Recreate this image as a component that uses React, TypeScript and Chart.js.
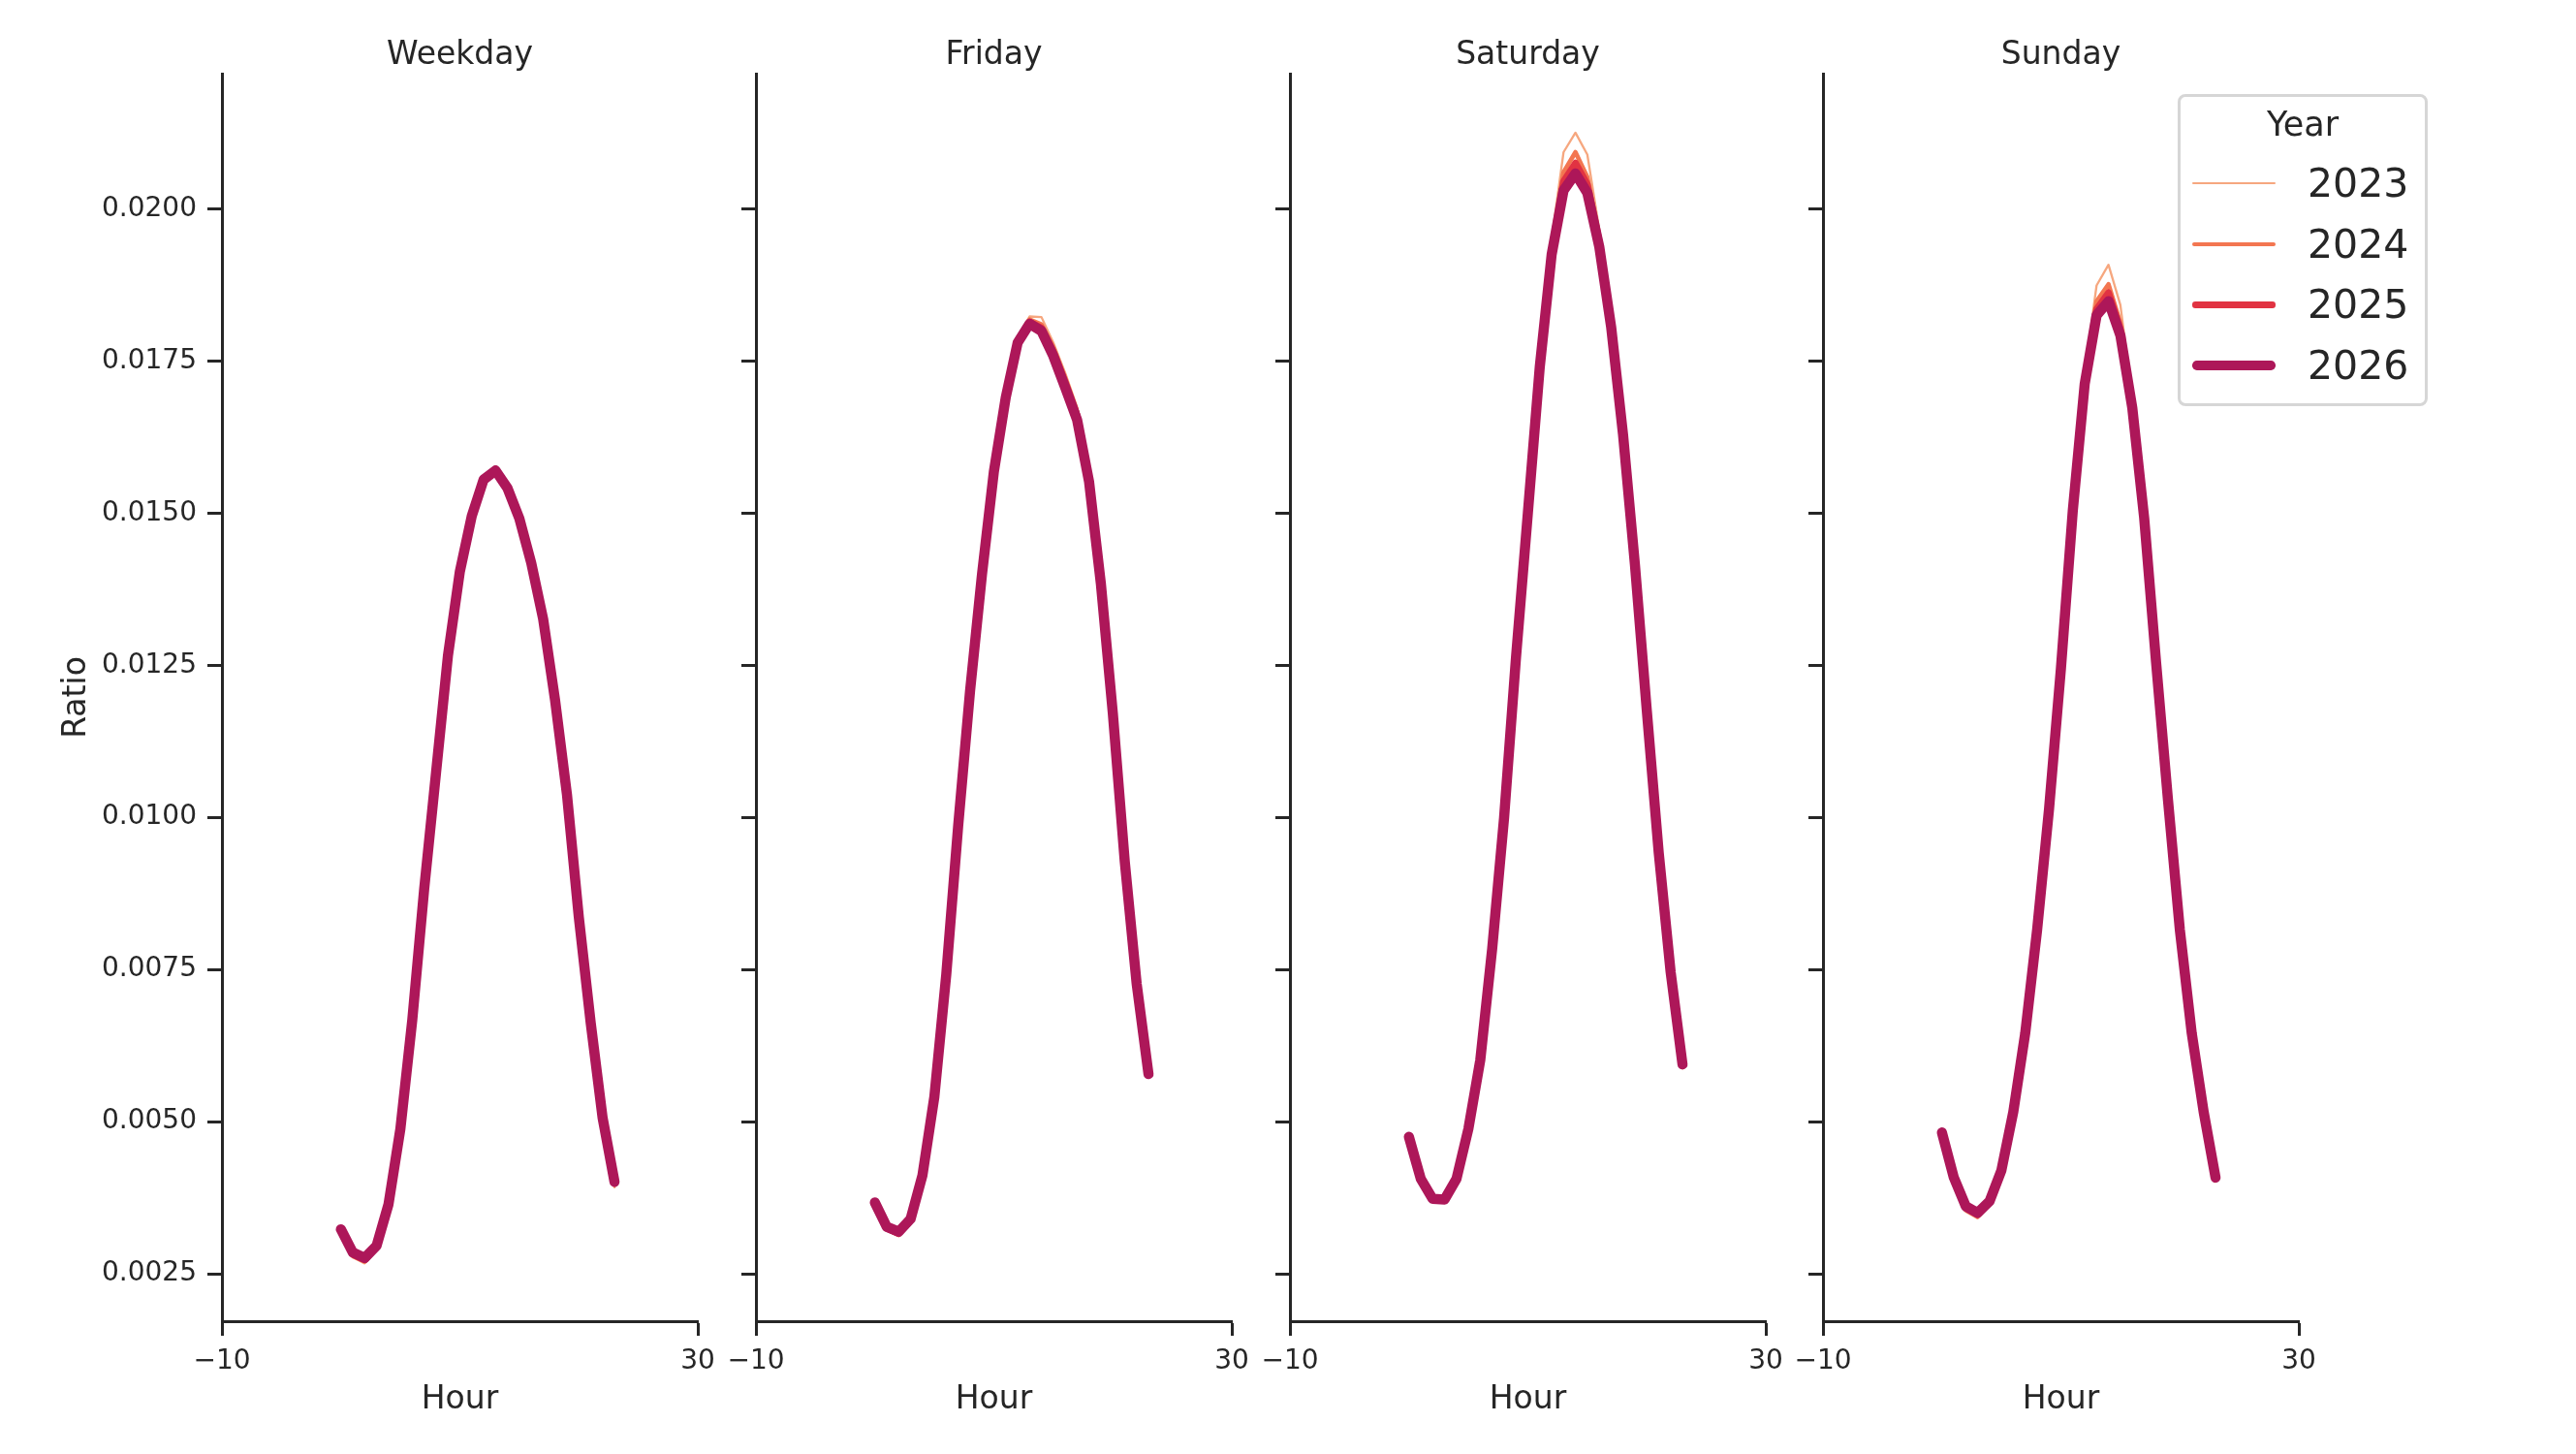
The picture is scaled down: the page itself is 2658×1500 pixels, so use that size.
import React, { useEffect, useRef } from 'react';
import { Chart, registerables } from 'chart.js';

Chart.register(...registerables);

const FONT = "'DejaVu Sans', 'Liberation Sans', sans-serif";
const INK = '#262626';

const HOURS = [0, 1, 2, 3, 4, 5, 6, 7, 8, 9, 10, 11, 12, 13, 14, 15, 16, 17, 18, 19, 20, 21, 22, 23];
const YEARS = ['2023', '2024', '2025', '2026'];
const YEAR_COLORS = ['#f6a77f', '#f37651', '#e13342', '#ad1759'];
const LINE_WIDTHS = [2.3, 4.6, 7, 10.5];
const SWATCH_WIDTHS = [2, 4, 6.5, 9.5];
const PANELS = ['Weekday', 'Friday', 'Saturday', 'Sunday'];
const Y_TICKS = [0.0025, 0.005, 0.0075, 0.01, 0.0125, 0.015, 0.0175, 0.02];
const X_TICKS = [-10, 30];

// Weekday
const WEEKDAY_2023 = [0.00318, 0.00277, 0.00267, 0.0029, 0.00361, 0.00486, 0.00666, 0.00883, 0.01076, 0.01269, 0.01407, 0.01499, 0.0156, 0.01576, 0.01545, 0.01493, 0.01419, 0.01325, 0.0119, 0.01035, 0.00832, 0.00657, 0.005, 0.00392];
const WEEKDAY_2024 = [0.00319, 0.00279, 0.0027, 0.00292, 0.00362, 0.00486, 0.00666, 0.00882, 0.01075, 0.01268, 0.01406, 0.01498, 0.01559, 0.01574, 0.01544, 0.01492, 0.01418, 0.01325, 0.01191, 0.01036, 0.00834, 0.00659, 0.00503, 0.00396];
const WEEKDAY_2025 = [0.00321, 0.00282, 0.00273, 0.00294, 0.00363, 0.00487, 0.00667, 0.00882, 0.01075, 0.01267, 0.01405, 0.01496, 0.01557, 0.01572, 0.01542, 0.01491, 0.01418, 0.01325, 0.01192, 0.01037, 0.00835, 0.00661, 0.00505, 0.00399];
const WEEKDAY_2026 = [0.00323, 0.00285, 0.00276, 0.00296, 0.00364, 0.00488, 0.00667, 0.00882, 0.01074, 0.01266, 0.01404, 0.01495, 0.01555, 0.0157, 0.01541, 0.01491, 0.01418, 0.01326, 0.01193, 0.01038, 0.00836, 0.00662, 0.00506, 0.00401];

// Friday
const FRIDAY_2023 = [0.00364, 0.00321, 0.00312, 0.00336, 0.0041, 0.0054, 0.00742, 0.00987, 0.0121, 0.01402, 0.01571, 0.01694, 0.01789, 0.01823, 0.01822, 0.0178, 0.0173, 0.01674, 0.01562, 0.01386, 0.0117, 0.00926, 0.00725, 0.00573];
const FRIDAY_2024 = [0.00365, 0.00323, 0.00314, 0.00337, 0.0041, 0.0054, 0.00742, 0.00986, 0.01209, 0.01401, 0.0157, 0.01693, 0.01786, 0.01818, 0.0181, 0.01772, 0.01722, 0.01667, 0.01558, 0.01385, 0.0117, 0.00927, 0.00726, 0.00575];
const FRIDAY_2025 = [0.00366, 0.00325, 0.00316, 0.00338, 0.00411, 0.00541, 0.00742, 0.00986, 0.01208, 0.014, 0.01569, 0.01692, 0.01783, 0.01814, 0.01804, 0.01765, 0.01714, 0.0166, 0.01555, 0.01384, 0.01171, 0.00928, 0.00727, 0.00577];
const FRIDAY_2026 = [0.00367, 0.00327, 0.00319, 0.0034, 0.00412, 0.00541, 0.00742, 0.00986, 0.01208, 0.01399, 0.01568, 0.0169, 0.0178, 0.01811, 0.01799, 0.01758, 0.01706, 0.01653, 0.01552, 0.01383, 0.01171, 0.00928, 0.00727, 0.00578];

// Saturday
const SATURDAY_2023 = [0.00472, 0.00403, 0.0037, 0.00369, 0.00405, 0.00488, 0.00602, 0.00786, 0.01003, 0.0127, 0.01512, 0.01758, 0.0195, 0.02093, 0.02125, 0.02089, 0.01966, 0.0182, 0.01635, 0.01417, 0.01175, 0.0094, 0.00742, 0.00587];
const SATURDAY_2024 = [0.00473, 0.00404, 0.00371, 0.0037, 0.00405, 0.00488, 0.00602, 0.00785, 0.01001, 0.01266, 0.01506, 0.0175, 0.01938, 0.0206, 0.02093, 0.02052, 0.01954, 0.01814, 0.01632, 0.01416, 0.01175, 0.00941, 0.00744, 0.0059];
const SATURDAY_2025 = [0.00474, 0.00405, 0.00372, 0.00371, 0.00406, 0.00488, 0.00601, 0.00784, 0.01, 0.01264, 0.01503, 0.01745, 0.01932, 0.02045, 0.02075, 0.0204, 0.01946, 0.0181, 0.0163, 0.01415, 0.01175, 0.00942, 0.00745, 0.00592];
const SATURDAY_2026 = [0.00475, 0.00406, 0.00373, 0.00372, 0.00406, 0.00488, 0.00601, 0.00784, 0.00999, 0.01262, 0.015, 0.0174, 0.01925, 0.0203, 0.02058, 0.02026, 0.01938, 0.01806, 0.01629, 0.01415, 0.01175, 0.00942, 0.00746, 0.00594];

// Sunday
const SUNDAY_2023 = [0.00479, 0.00402, 0.00352, 0.00341, 0.00363, 0.00417, 0.00516, 0.00646, 0.00817, 0.01016, 0.0125, 0.01514, 0.0173, 0.01874, 0.01908, 0.01842, 0.0169, 0.01499, 0.01258, 0.0103, 0.00813, 0.00643, 0.00512, 0.00401];
const SUNDAY_2024 = [0.0048, 0.00404, 0.00355, 0.00344, 0.00365, 0.00418, 0.00516, 0.00646, 0.00816, 0.01015, 0.01248, 0.0151, 0.01722, 0.01848, 0.01876, 0.01812, 0.01683, 0.01496, 0.01257, 0.01029, 0.00814, 0.00644, 0.00514, 0.00404];
const SUNDAY_2025 = [0.00481, 0.00406, 0.00358, 0.00347, 0.00367, 0.00419, 0.00516, 0.00645, 0.00815, 0.01014, 0.01246, 0.01507, 0.01717, 0.01835, 0.01862, 0.01802, 0.01678, 0.01494, 0.01256, 0.01029, 0.00815, 0.00645, 0.00515, 0.00406];
const SUNDAY_2026 = [0.00482, 0.00408, 0.00361, 0.0035, 0.00369, 0.0042, 0.00516, 0.00645, 0.00815, 0.01013, 0.01244, 0.01504, 0.01712, 0.01825, 0.01848, 0.01792, 0.01673, 0.01492, 0.01255, 0.01029, 0.00815, 0.00645, 0.00516, 0.00408];

const SERIES = [
  [WEEKDAY_2023, WEEKDAY_2024, WEEKDAY_2025, WEEKDAY_2026],
  [FRIDAY_2023, FRIDAY_2024, FRIDAY_2025, FRIDAY_2026],
  [SATURDAY_2023, SATURDAY_2024, SATURDAY_2025, SATURDAY_2026],
  [SUNDAY_2023, SUNDAY_2024, SUNDAY_2025, SUNDAY_2026],
];

// plot-area geometry (px)
const PLOT_LEFT = [229, 780, 1331, 1881];
const PLOT_W = 491;
const PLOT_TOP = 76;
const PLOT_BOTTOM = 1363;
const H = 1500;

// panel title centred over the plot area, like a facet title
const panelTitle = {
  id: 'panelTitle',
  afterDraw(chart: any, _args: any, opts: any) {
    const { ctx, chartArea } = chart;
    ctx.save();
    ctx.font = `33px ${FONT}`;
    ctx.fillStyle = INK;
    ctx.textAlign = 'center';
    ctx.textBaseline = 'middle';
    ctx.fillText(opts.text, (chartArea.left + chartArea.right) / 2, 57);
    ctx.restore();
  },
};

const Panel: React.FC<{ idx: number }> = ({ idx }) => {
  const ref = useRef<HTMLCanvasElement>(null);
  const first = idx === 0;
  const yAxisW = first ? PLOT_LEFT[0] : 60;
  const left = PLOT_LEFT[idx] - yAxisW;
  const width = yAxisW + PLOT_W + 40;

  useEffect(() => {
    if (!ref.current) return;
    const tickFont = { family: FONT, size: 28 };
    const labelFont = { family: FONT, size: 33, lineHeight: 1.2 };

    const chart = new Chart(ref.current, {
      type: 'line',
      data: {
        datasets: YEARS.map((y, i) => ({
          label: y,
          data: HOURS.map((h, k) => ({ x: h, y: SERIES[idx][i][k] })),
          borderColor: YEAR_COLORS[i],
          backgroundColor: YEAR_COLORS[i],
          borderWidth: LINE_WIDTHS[i],
          borderCapStyle: 'round',
          borderJoinStyle: 'round',
          pointRadius: 0,
          tension: 0,
          fill: false,
          order: 3 - i,
        })),
      },
      options: {
        responsive: false,
        animation: false,
        devicePixelRatio: 1,
        layout: { padding: { left: 0, right: 40, top: PLOT_TOP, bottom: 0 } },
        plugins: {
          legend: { display: false },
          tooltip: { enabled: false },
          title: { display: false },
          panelTitle: { text: PANELS[idx] },
        },
        scales: {
          x: {
            type: 'linear',
            min: -10,
            max: 30,
            afterBuildTicks: (s: any) => { s.ticks = X_TICKS.map(v => ({ value: v })); },
            afterFit: (s: any) => { s.height = H - PLOT_BOTTOM; },
            ticks: {
              color: INK,
              font: tickFont,
              padding: 10,
              maxRotation: 0,
              callback: (v: any) => (v < 0 ? '\u2212' + Math.abs(v) : String(v)),
            },
            grid: { drawOnChartArea: false, drawTicks: true, tickLength: 15, tickWidth: 3, tickColor: INK },
            border: { display: true, color: INK, width: 3 },
            title: { display: true, text: 'Hour', color: INK, font: labelFont, padding: { top: 0, bottom: 36 } },
          },
          y: {
            type: 'linear',
            min: 0.00172,
            max: 0.02222,
            afterBuildTicks: (s: any) => { s.ticks = Y_TICKS.map(v => ({ value: v })); },
            afterFit: (s: any) => { s.width = yAxisW; },
            ticks: {
              display: first,
              color: INK,
              font: tickFont,
              padding: 11,
              callback: (v: any) => Number(v).toFixed(4),
            },
            grid: { drawOnChartArea: false, drawTicks: true, tickLength: 15, tickWidth: 3, tickColor: INK },
            border: { display: true, color: INK, width: 3 },
            title: { display: first, text: 'Ratio', color: INK, font: labelFont, padding: { top: 60, bottom: 0 } },
          },
        },
      },
      plugins: [panelTitle],
    } as any);

    return () => { chart.destroy(); };
  }, [idx]);

  return (
    <canvas
      ref={ref}
      width={width}
      height={H}
      style={{ position: 'absolute', left, top: 0, width, height: H }}
    />
  );
};

const Legend: React.FC = () => (
  <div
    style={{
      position: 'absolute', left: 2247, top: 97, width: 258, height: 322,
      boxSizing: 'border-box', border: '3px solid #d6d6d6', borderRadius: 8,
      background: 'rgba(255,255,255,0.8)', fontFamily: FONT, color: INK,
    }}
  >
    <div style={{ position: 'absolute', left: 0, right: 0, top: 7, textAlign: 'center', fontSize: 35, lineHeight: '42px' }}>Year</div>
    {YEARS.map((y, i) => (
      <div key={y} style={{ position: 'absolute', left: 0, top: 64 + i * 62.7, height: 50, width: '100%' }}>
        <div style={{
          position: 'absolute', left: 12, top: 25 - SWATCH_WIDTHS[i] / 2, width: 86,
          height: SWATCH_WIDTHS[i], borderRadius: SWATCH_WIDTHS[i] / 2, background: YEAR_COLORS[i],
        }} />
        <div style={{ position: 'absolute', left: 131, top: 0, fontSize: 41, lineHeight: '50px' }}>{y}</div>
      </div>
    ))}
  </div>
);

export default function App() {
  return (
    <div style={{ position: 'absolute', left: 0, top: 0, width: 2658, height: H, background: '#fff', overflow: 'hidden' }}>
      {PANELS.map((p, i) => <Panel key={p} idx={i} />)}
      <Legend />
    </div>
  );
}
